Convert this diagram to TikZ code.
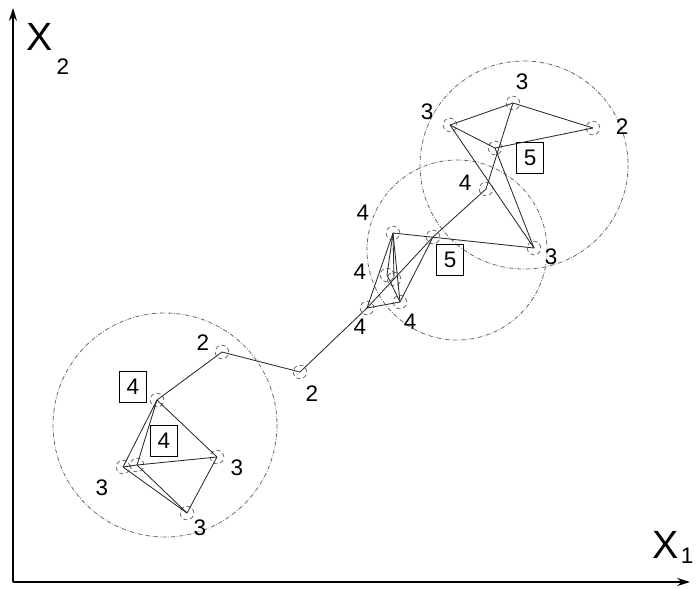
\documentclass[tikz,border=0pt]{standalone}
\usepackage{fontspec}
\setmainfont{Liberation Sans}
\usepackage{xcolor}
\usepackage{tikz}
\usetikzlibrary{arrows.meta, positioning}
\definecolor{cLINE}{HTML}{2A2A2A}
\definecolor{cRING}{HTML}{666666}

\begin{document}
\begin{tikzpicture}[
  x=0.025cm, y=-0.025cm,
  font=\fontsize{16}{18}\selectfont,
  pt/.style={draw=cRING, densely dashed, circle, minimum size=0.34cm, inner sep=0pt, line width=0.55pt},
  tag/.style={inner sep=0pt},
  boxtag/.style={draw, line width=1pt, minimum width=0.68cm, minimum height=0.78cm, inner sep=0pt},
  link/.style={draw=cLINE, line width=0.6pt},
  ring/.style={draw=cRING, line width=0.55pt, dash pattern=on 3pt off 1.2pt on 0.5pt off 1.2pt},
  axis/.style={-{Stealth[length=3.2mm, width=2mm]}, line width=1.2pt},
  axlab/.style={font=\fontsize{28}{30}\selectfont, inner sep=0pt},
  axsub/.style={font=\fontsize{16}{18}\selectfont, inner sep=0pt}
]
\useasboundingbox (0,0) rectangle (696,588);

% axes
\coordinate (origin) at (13,582);
\coordinate (ytip) at (13,8);
\coordinate (xtip) at (690,582);
\draw[axis] (origin) -- (ytip);
\draw[axis] (origin) -- (xtip);
\node[axlab] (x2) at (40,37) {X};
\node[axsub] (x2s) at (63,67) {2};
\node[axlab] (x1) at (666,545) {X};
\node[axsub] (x1s) at (687,556) {1};

% clusters
\draw[ring] (165,425) circle (112);
\draw[ring] (457,250) circle (90);
\draw[ring] (524,165) circle (104);

% lower cluster
\node[pt] (l2) at (222,352) {};
\node[pt] (m2) at (300,372) {};
\node[pt] (lt) at (157,400) {};
\node[pt] (ll) at (123,467) {};
\node[pt] (lm) at (137,465) {};
\node[pt] (lr) at (217,457) {};
\node[pt] (lb) at (187,513) {};

\node[tag] (l2t) at (203,343) {2};
\node[tag] (m2t) at (312,394) {2};
\node[boxtag] (ltb) at (133,387) {4};
\node[boxtag] (lib) at (164,441) {4};
\node[tag] (llt) at (102,488) {3};
\node[tag] (lrt) at (237,468) {3};
\node[tag] (lbt) at (200,528) {3};

\draw[link] (l2.center) -- (m2.center);
\draw[link] (l2.center) -- (lt.center);
\draw[link] (lt.center) -- (ll.center);
\draw[link] (lt.center) -- (lm.center);
\draw[link] (lt.center) -- (lr.center);
\draw[link] (ll.center) -- (lm.center);
\draw[link] (lm.center) -- (lr.center);
\draw[link] (ll.center) -- (lb.center);
\draw[link] (lm.center) -- (lb.center);
\draw[link] (lr.center) -- (lb.center);

% middle cluster
\node[pt] (ma) at (367,308) {};
\node[pt] (mb) at (393,233) {};
\node[pt] (mc) at (387,275) {};
\node[pt] (mc2) at (394,279) {};
\node[pt] (md) at (400,302) {};
\node[pt] (me) at (433,237) {};
\node[pt] (mf) at (534,248) {};
\node[pt] (u4) at (486,189) {};

\node[tag] (mat) at (360,327) {4};
\node[tag] (mbt) at (363,213) {4};
\node[tag] (mct) at (360,272) {4};
\node[tag] (mdt) at (410,322) {4};
\node[boxtag] (meb) at (450,260) {5};
\node[tag] (mft) at (551,257) {3};
\node[tag] (u4t) at (465,183) {4};

\draw[link] (m2.center) -- (ma.center);
\draw[link] (ma.center) -- (me.center);
\draw[link] (me.center) -- (u4.center);
\draw[link] (mb.center) -- (ma.center);
\draw[link] (mb.center) -- (mc.center);
\draw[link] (mb.center) -- (mc2.center);
\draw[link] (mb.center) -- (md.center);
\draw[link] (ma.center) -- (md.center);
\draw[link] (mc.center) -- (md.center);
\draw[link] (me.center) -- (md.center);
\draw[link] (mb.center) -- (mf.center);

% upper cluster
\node[pt] (qa) at (450,125) {};
\node[pt] (qb) at (513,103) {};
\node[pt] (qc) at (593,128) {};
\node[pt] (qd) at (495,148) {};

\node[tag] (qat) at (427,112) {3};
\node[tag] (qbt) at (522,82) {3};
\node[tag] (qct) at (622,127) {2};
\node[boxtag] (qdb) at (530,158) {5};

\draw[link] (qa.center) -- (qb.center);
\draw[link] (qb.center) -- (qc.center);
\draw[link] (qc.center) -- (qd.center);
\draw[link] (qd.center) -- (qa.center);
\draw[link] (qa.center) -- (mf.center);
\draw[link] (qd.center) -- (mf.center);
\draw[link] (qb.center) -- (u4.center);
\end{tikzpicture}
\end{document}
